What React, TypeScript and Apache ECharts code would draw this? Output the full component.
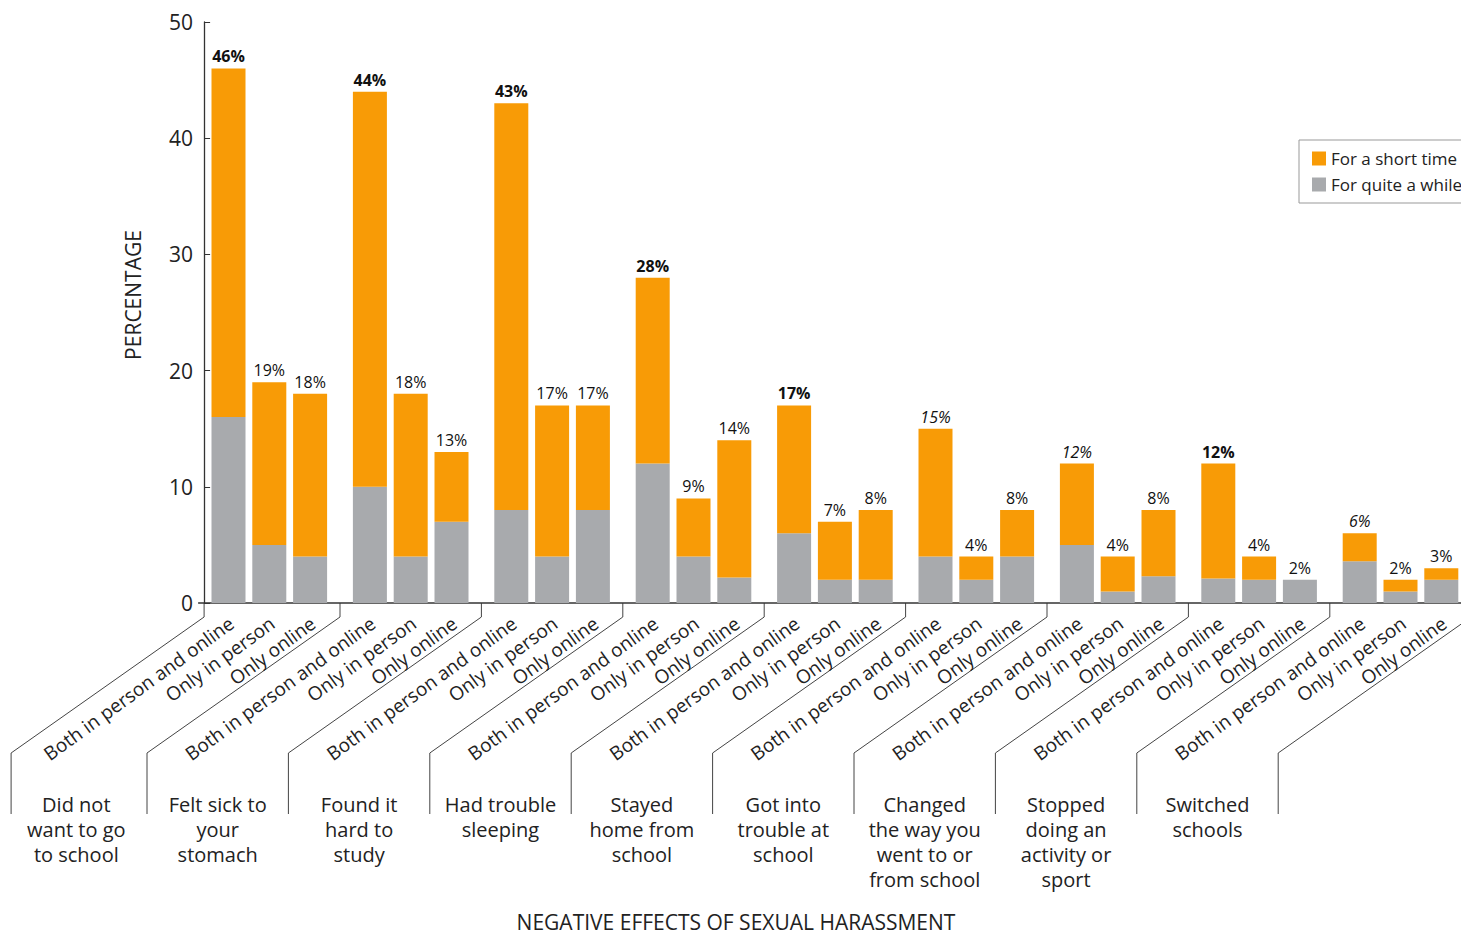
import React, { useEffect, useRef } from "react";
import * as echarts from "echarts";

const FONT = "'Open Sans', 'Noto Sans', sans-serif";
const ORANGE = "#F89B06";
const GRAY = "#A8AAAD";
const TEXT = "#222222";

// Groups (effects) and the three sub-categories inside each group
const GROUPS = [
  "Did not\nwant to go\nto school",
  "Felt sick to\nyour\nstomach",
  "Found it\nhard to\nstudy",
  "Had trouble\nsleeping",
  "Stayed\nhome from\nschool",
  "Got into\ntrouble at\nschool",
  "Changed\nthe way you\nwent to or\nfrom school",
  "Stopped\ndoing an\nactivity or\nsport",
  "Switched\nschools",
];
const SUBCATS = ["Both in person and online", "Only in person", "Only online"];
const LEGEND = ["For a short time", "For quite a while"];

// Totals printed above bars (%)
const TOTAL_BOTH = [46, 44, 43, 28, 17, 15, 12, 12, 6];
const TOTAL_PERSON = [19, 18, 17, 9, 7, 4, 4, 4, 2];
const TOTAL_ONLINE = [18, 13, 17, 14, 8, 8, 8, 2, 3];

// "For quite a while" (gray, bottom)
const WHILE_BOTH = [16, 10, 8, 12, 6, 4, 5, 2.1, 3.6];
const WHILE_PERSON = [5, 4, 4, 4, 2, 2, 1, 2, 1];
const WHILE_ONLINE = [4, 7, 8, 2.2, 2, 4, 2.3, 2, 2];

// "For a short time" (orange, top)
const SHORT_BOTH = [30, 34, 35, 16, 11, 11, 7, 9.9, 2.4];
const SHORT_PERSON = [14, 14, 13, 5, 5, 2, 3, 2, 1];
const SHORT_ONLINE = [14, 6, 9, 11.8, 6, 4, 5.7, 0, 1];

// Label emphasis for the first bar of each group
const STYLE_BOTH = ["bold", "bold", "bold", "bold", "bold", "italic", "italic", "bold", "italic"];
const STYLE_OTHER = ["normal", "normal", "normal", "normal", "normal", "normal", "normal", "normal", "normal"];

const Y_TICKS = [0, 10, 20, 30, 40, 50];

export default function App() {
  const ref = useRef<HTMLDivElement>(null);

  useEffect(() => {
    document.body.style.margin = "0";
    const chart = echarts.init(ref.current!, null, { renderer: "svg" });

    const positions = [
      { short: SHORT_BOTH, long: WHILE_BOTH, total: TOTAL_BOTH, styles: STYLE_BOTH },
      { short: SHORT_PERSON, long: WHILE_PERSON, total: TOTAL_PERSON, styles: STYLE_OTHER },
      { short: SHORT_ONLINE, long: WHILE_ONLINE, total: TOTAL_ONLINE, styles: STYLE_OTHER },
    ];

    const series: any[] = [];
    positions.forEach((p, k) => {
      series.push({
        type: "bar",
        name: LEGEND[1],
        stack: "s" + k,
        barWidth: 34,
        barGap: "20%",
        itemStyle: { color: GRAY },
        data: p.long,
        label: {
          show: true,
          position: "bottom",
          distance: 19,
          offset: [3, 1],
          rotate: 36,
          align: "right",
          verticalAlign: "middle",
          formatter: () => SUBCATS[k],
          fontSize: 19,
          fontFamily: FONT,
          color: TEXT,
        },
      });
      series.push({
        type: "bar",
        name: LEGEND[0],
        stack: "s" + k,
        barWidth: 34,
        barGap: "20%",
        itemStyle: { color: ORANGE },
        data: p.short.map((v, i) => ({
          value: v,
          label: {
            fontWeight: p.styles[i] === "bold" ? "bold" : "normal",
            fontStyle: p.styles[i] === "italic" ? "italic" : "normal",
          },
        })),
        label: {
          show: true,
          position: "top",
          distance: 4,
          formatter: (d: any) => p.total[d.dataIndex] + "%",
          fontSize: 16,
          fontFamily: FONT,
          color: "#111",
        },
      });
    });

    const option: any = {
      animation: false,
      backgroundColor: "#ffffff",
      textStyle: { fontFamily: FONT },
      grid: {
        left: 198.6,
        width: 1272.6,
        top: 22,
        height: 581,
        containLabel: false,
        outerBoundsMode: "none",
      },
      legend: {
        data: LEGEND,
        orient: "vertical",
        left: 1299,
        top: 140,
        icon: "rect",
        itemWidth: 14,
        itemHeight: 14,
        itemGap: 9,
        borderColor: "#999",
        borderWidth: 1,
        padding: [10, 20, 10, 13],
        backgroundColor: "#fff",
        textStyle: { fontSize: 17, color: TEXT, fontFamily: FONT },
      },
      xAxis: {
        type: "category",
        data: GROUPS,
        axisLine: { show: true, lineStyle: { color: "#333", width: 1.5 } },
        axisTick: { show: false },
        axisLabel: { show: false },
      },
      yAxis: {
        type: "value",
        min: Y_TICKS[0],
        max: Y_TICKS[Y_TICKS.length - 1],
        interval: 10,
        offset: -5.5,
        axisLine: { show: true, lineStyle: { color: "#333", width: 1.3 } },
        axisTick: { show: true, inside: true, length: 6, lineStyle: { color: "#333" } },
        axisLabel: { fontSize: 21, color: TEXT, margin: 11, fontFamily: FONT },
        splitLine: { show: false },
      },
      series,
    };

    chart.setOption(option);

    // Decorations: group separators and group names below the rotated labels
    const centers = GROUPS.map((_, i) => chart.convertToPixel({ xAxisIndex: 0 }, i) as number);
    const band = centers[1] - centers[0];
    const y0 = chart.convertToPixel({ yAxisIndex: 0 }, 0) as number;
    const yTop = chart.convertToPixel({ yAxisIndex: 0 }, Y_TICKS[Y_TICKS.length - 1]) as number;
    const yAxisX = centers[0] - band / 2 + 5.5;
    const DX = 193;

    const graphics: any[] = [];
    for (let i = 0; i <= GROUPS.length; i++) {
      const x = i === 0 ? yAxisX : (i < GROUPS.length ? centers[i] - band / 2 : centers[GROUPS.length - 1] + band / 2);
      graphics.push({
        type: "polyline",
        silent: true,
        shape: {
          points: [
            [x, y0],
            [x, y0 + 14],
            [x - DX, y0 + 150],
            [x - DX, y0 + 211],
          ],
        },
        style: { stroke: "#444", lineWidth: 1, fill: null },
      });
    }
    GROUPS.forEach((g, i) => {
      graphics.push({
        type: "text",
        silent: true,
        x: centers[i] - 193,
        y: y0 + 189,
        style: {
          text: g,
          fill: TEXT,
          fontSize: 20,
          fontFamily: FONT,
          lineHeight: 25,
          align: "center",
          verticalAlign: "top",
        },
      });
    });
    // Y axis title
    graphics.push({
      type: "text",
      silent: true,
      x: yAxisX - 71,
      y: yTop + 273,
      rotation: Math.PI / 2,
      style: {
        text: "PERCENTAGE",
        fill: TEXT,
        fontSize: 21,
        fontFamily: FONT,
        align: "center",
        verticalAlign: "middle",
      },
    });
    // X axis title
    graphics.push({
      type: "text",
      silent: true,
      x: 736,
      y: 922,
      style: {
        text: "NEGATIVE EFFECTS OF SEXUAL HARASSMENT",
        fill: TEXT,
        fontSize: 21,
        fontFamily: FONT,
        align: "center",
        verticalAlign: "middle",
      },
    });

    chart.setOption({ graphic: graphics });

    return () => chart.dispose();
  }, []);

  return <div ref={ref} style={{ width: 1461, height: 935 }} />;
}
